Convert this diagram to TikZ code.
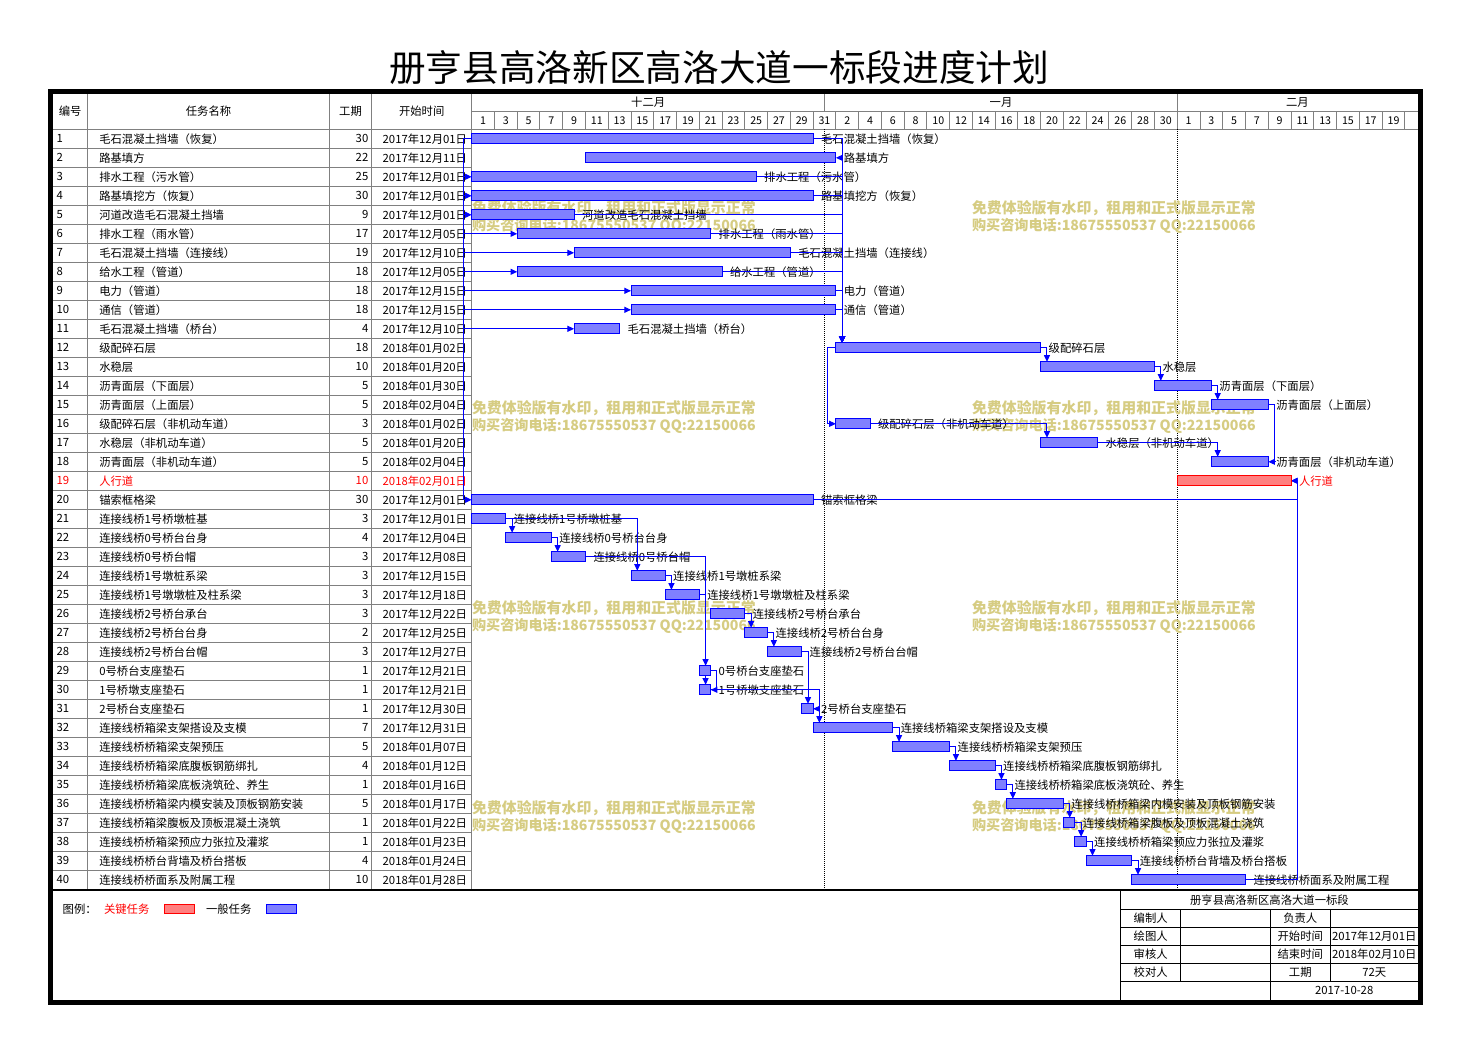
\documentclass[tikz,border=0pt]{standalone}
\usepackage{fontspec}
\setmainfont{Noto Sans CJK SC}
\usetikzlibrary{arrows.meta}
\pgfdeclarelayer{back}
\pgfdeclarelayer{mid}
\pgfsetlayers{back,mid,main}
\definecolor{wm}{RGB}{214,204,130}
\definecolor{gridc}{RGB}{128,128,128}
\definecolor{filln}{RGB}{128,128,255}
\definecolor{fillc}{RGB}{255,128,128}
\colorlet{txtn}{black}
\colorlet{txtc}{red}
\colorlet{linen}{blue}
\colorlet{linec}{red}
\newcommand\fslink[2]{\draw[link] (b#1.east) -| ([xshift=4.7pt]b#2.north west);}
\newcommand\fflink[2]{\draw[link] (b#1.east) -| ([xshift=4.7pt]b#2.east) -- (b#2.east);}
\newcommand\sslink[2]{\draw[link] (b#1.west) -- ++(-6pt,0) |- (b#2.west);}
\begin{document}
\begin{tikzpicture}[x=0.75pt,y=-0.75pt,
  every node/.style={inner sep=0pt, outer sep=0pt, font=\fontsize{8.5pt}{10pt}\selectfont},
  gbar/.style={line width=0.75pt, minimum height=7.5pt, anchor=west},
  conn/.style={blue, line width=0.75pt},
  link/.style={conn, -{Triangle[length=5pt,width=4.5pt]}},
  gline/.style={gridc, line width=0.75pt},
  tline/.style={black, line width=0.75pt},
  wmark/.style={text=wm, font=\fontsize{11.2pt}{13pt}\selectfont\bfseries, anchor=west},
  wmarkb/.style={text=wm, font=\fontsize{10.6pt}{13pt}\selectfont\bfseries, anchor=west},
  lbl/.style={anchor=west},
  dayno/.style={font=\fontsize{8pt}{9pt}\selectfont},
  legbox/.style={line width=0.75pt, minimum width=22.5pt, minimum height=6.75pt, anchor=west}]
\useasboundingbox (0,0) rectangle (1469,1051);
\begin{pgfonlayer}{back}
\fill[white] (0,0) rectangle (1469,1051);
\end{pgfonlayer}

% ---------- bars and table rows ----------
\foreach \i/\nm/\du/\dt/\st/\k in {
1/毛石混凝土挡墙（恢复）/30/2017年12月01日/0/n,
2/路基填方/22/2017年12月11日/10/n,
3/排水工程（污水管）/25/2017年12月01日/0/n,
4/路基填挖方（恢复）/30/2017年12月01日/0/n,
5/河道改造毛石混凝土挡墙/9/2017年12月01日/0/n,
6/排水工程（雨水管）/17/2017年12月05日/4/n,
7/毛石混凝土挡墙（连接线）/19/2017年12月10日/9/n,
8/给水工程（管道）/18/2017年12月05日/4/n,
9/电力（管道）/18/2017年12月15日/14/n,
10/通信（管道）/18/2017年12月15日/14/n,
11/毛石混凝土挡墙（桥台）/4/2017年12月10日/9/n,
12/级配碎石层/18/2018年01月02日/32/n,
13/水稳层/10/2018年01月20日/50/n,
14/沥青面层（下面层）/5/2018年01月30日/60/n,
15/沥青面层（上面层）/5/2018年02月04日/65/n,
16/级配碎石层（非机动车道）/3/2018年01月02日/32/n,
17/水稳层（非机动车道）/5/2018年01月20日/50/n,
18/沥青面层（非机动车道）/5/2018年02月04日/65/n,
19/人行道/10/2018年02月01日/62/c,
20/锚索框格梁/30/2017年12月01日/0/n,
21/连接线桥1号桥墩桩基/3/2017年12月01日/0/n,
22/连接线桥0号桥台台身/4/2017年12月04日/3/n,
23/连接线桥0号桥台帽/3/2017年12月08日/7/n,
24/连接线桥1号墩桩系梁/3/2017年12月15日/14/n,
25/连接线桥1号墩墩桩及柱系梁/3/2017年12月18日/17/n,
26/连接线桥2号桥台承台/3/2017年12月22日/21/n,
27/连接线桥2号桥台台身/2/2017年12月25日/24/n,
28/连接线桥2号桥台台帽/3/2017年12月27日/26/n,
29/0号桥台支座垫石/1/2017年12月21日/20/n,
30/1号桥墩支座垫石/1/2017年12月21日/20/n,
31/2号桥台支座垫石/1/2017年12月30日/29/n,
32/连接线桥箱梁支架搭设及支模/7/2017年12月31日/30/n,
33/连接线桥桥箱梁支架预压/5/2018年01月07日/37/n,
34/连接线桥桥箱梁底腹板钢筋绑扎/4/2018年01月12日/42/n,
35/连接线桥桥箱梁底板浇筑砼、养生/1/2018年01月16日/46/n,
36/连接线桥桥箱梁内模安装及顶板钢筋安装/5/2018年01月17日/47/n,
37/连接线桥箱梁腹板及顶板混凝土浇筑/1/2018年01月22日/52/n,
38/连接线桥桥箱梁预应力张拉及灌浆/1/2018年01月23日/53/n,
39/连接线桥桥台背墙及桥台搭板/4/2018年01月24日/54/n,
40/连接线桥桥面系及附属工程/10/2018年01月28日/58/n}{
  \pgfmathsetmacro\bx{471.7+\st*11.38}
  \pgfmathsetmacro\by{119.8+19*\i}
  \pgfmathsetmacro\bw{\du*8.535}
  \node[gbar, draw=line\k, fill=fill\k, minimum width=\bw pt] (b\i) at (\bx,\by) {};
  \begin{pgfonlayer}{back}
    \node[anchor=west,text=txt\k] (n\i) at (56.7,\by) {\i};
    \node[anchor=west,text=txt\k] (t\i) at (99.3,\by) {\nm};
    \node[anchor=east,text=txt\k] (u\i) at (368.3,\by) {\du};
    \node[anchor=east,text=txt\k] (s\i) at (467,\by) {\dt};
  \end{pgfonlayer}
}

% ---------- background: grid, headers, watermark ----------
\begin{pgfonlayer}{back}
\node[font=\fontsize{27.5pt}{30pt}\selectfont] (title) at (719,68) {册亨县高洛新区高洛大道一标段进度计划};
% header grid
\draw[gline] (471.7,111.3) -- (1418,111.3);
\draw[gline] (52.7,129.3) -- (1418,129.3);
\draw[gline] (824.7,94) -- (824.7,111.3);
\draw[gline] (1177.3,94) -- (1177.3,111.3);
\foreach \k in {1,...,41} \draw[gline] ({471.7+2*\k*11.38},111.3) -- ++(0,18);
\foreach \x in {87.7,329.3,371.7,471.7} \draw[gline] (\x,94) -- (\x,889.3);
\foreach \i in {1,...,40} \draw[gline] (52.7,{129.3+19*\i}) -- (471.7,{129.3+19*\i});
% dotted month lines
\draw[black, line width=0.75pt, dash pattern=on 0.75pt off 0.75pt] (824.7,129.3) -- (824.7,889.3);
\draw[black, line width=0.75pt, dash pattern=on 0.75pt off 0.75pt] (1177.3,129.3) -- (1177.3,889.3);
% header texts
\node (h1) at (70.2,111.3) {编号};
\node (h2) at (208.5,111.3) {任务名称};
\node (h3) at (350.5,111.3) {工期};
\node (h4) at (421.7,111.3) {开始时间};
\node (m1) at (648.2,102.6) {十二月};
\node (m2) at (1001,102.6) {一月};
\node (m3) at (1297.4,102.6) {二月};
\foreach \k in {0,...,40}{
  \pgfmathtruncatemacro\tt{2*\k}
  \pgfmathtruncatemacro\dn{\tt<31 ? \tt+1 : (\tt<62 ? \tt-30 : \tt-61)}
  \node[dayno] (d\k) at ({471.7+(2*\k+1)*11.38},120.3) {\dn};
}
% watermarks
\foreach \wx/\wy/\j in {472/208/1,972/208/2,472/408/3,972/408/4,472/608/5,972/608/6,472/808/7,972/808/8}{
  \node[wmark] (wa\j) at (\wx,\wy) {免费体验版有水印，租用和正式版显示正常};
  \node[wmarkb] (wb\j) at (\wx,\wy+18) {购买咨询电话:18675550537 QQ:22150066};
}
% chart labels
\foreach \i/\nm/\k in {1/毛石混凝土挡墙（恢复）/n,2/路基填方/n,3/排水工程（污水管）/n,4/路基填挖方（恢复）/n,
5/河道改造毛石混凝土挡墙/n,6/排水工程（雨水管）/n,7/毛石混凝土挡墙（连接线）/n,8/给水工程（管道）/n,
9/电力（管道）/n,10/通信（管道）/n,11/毛石混凝土挡墙（桥台）/n,12/级配碎石层/n,13/水稳层/n,
14/沥青面层（下面层）/n,15/沥青面层（上面层）/n,16/级配碎石层（非机动车道）/n,17/水稳层（非机动车道）/n,
18/沥青面层（非机动车道）/n,19/人行道/c,20/锚索框格梁/n,21/连接线桥1号桥墩桩基/n,22/连接线桥0号桥台台身/n,
23/连接线桥0号桥台帽/n,24/连接线桥1号墩桩系梁/n,25/连接线桥1号墩墩桩及柱系梁/n,26/连接线桥2号桥台承台/n,
27/连接线桥2号桥台台身/n,28/连接线桥2号桥台台帽/n,29/0号桥台支座垫石/n,30/1号桥墩支座垫石/n,
31/2号桥台支座垫石/n,32/连接线桥箱梁支架搭设及支模/n,33/连接线桥桥箱梁支架预压/n,34/连接线桥桥箱梁底腹板钢筋绑扎/n,
35/连接线桥桥箱梁底板浇筑砼、养生/n,36/连接线桥桥箱梁内模安装及顶板钢筋安装/n,37/连接线桥箱梁腹板及顶板混凝土浇筑/n,
38/连接线桥桥箱梁预应力张拉及灌浆/n,39/连接线桥桥台背墙及桥台搭板/n,40/连接线桥桥面系及附属工程/n}{
  \node[lbl,text=txt\k] (l\i) at ([xshift=6pt]b\i.east) {\nm};
}
% legend
\node[anchor=west] (lg0) at (62.7,909) {图例：};
\node[anchor=west,text=red] (lg1) at (104,909) {关键任务};
\node[legbox, draw=red, fill=fillc] (lg2) at (164,908.8) {};
\node[anchor=west] (lg3) at (206,909) {一般任务};
\node[legbox, draw=blue, fill=filln] (lg4) at (266,908.8) {};
% title block
\draw[tline] (1120.7,890) -- (1120.7,1000.2);
\foreach \y in {909.3,927.3,945.3,963.3,981.3} \draw[tline] (1120.7,\y) -- (1418,\y);
\draw[tline] (1180.7,909.3) -- (1180.7,981.3);
\draw[tline] (1270.3,909.3) -- (1270.3,1000.2);
\draw[tline] (1330.3,909.3) -- (1330.3,981.3);
\node (tb0) at (1269.4,900) {册亨县高洛新区高洛大道一标段};
\node (tb1) at (1150.7,918.3) {编制人};
\node (tb2) at (1300.3,918.3) {负责人};
\node (tb3) at (1150.7,936.3) {绘图人};
\node (tb4) at (1300.3,936.3) {开始时间};
\node (tb5) at (1374.2,936.3) {2017年12月01日};
\node (tb6) at (1150.7,954.3) {审核人};
\node (tb7) at (1300.3,954.3) {结束时间};
\node (tb8) at (1374.2,954.3) {2018年02月10日};
\node (tb9) at (1150.7,972.3) {校对人};
\node (tb10) at (1300.3,972.3) {工期};
\node (tb11) at (1374.2,972.3) {72天};
\node (tb12) at (1344.2,990.7) {2017-10-28};
\end{pgfonlayer}

% ---------- connectors ----------
\begin{pgfonlayer}{mid}
\foreach \r in {3,4,5,6,7,8,9,10,11,20} {\sslink{1}{\r}}
\sslink{12}{16}
\foreach \r in {1,3,4,5,6,7,8,9,10} {\fslink{\r}{12}}
\fflink{1}{2}
\foreach \a/\b in {12/13,13/14,14/15,16/17,17/18,21/22,21/24,22/23,23/29,24/25,25/30,26/27,27/28,28/31,
  31/32,32/33,33/34,34/35,35/36,36/37,37/38,38/39,39/40} {\fslink{\a}{\b}}
\foreach \a/\b in {15/18,29/30,30/31,20/19,40/19} {\fflink{\a}{\b}}
\end{pgfonlayer}

% ---------- frame ----------
\draw[black, line width=1.2pt] (52.7,890) -- (1418,890);
\draw[black, line width=3.4pt] (50.5,91.7) rectangle (1420.3,1002.3);
\end{tikzpicture}
\end{document}
